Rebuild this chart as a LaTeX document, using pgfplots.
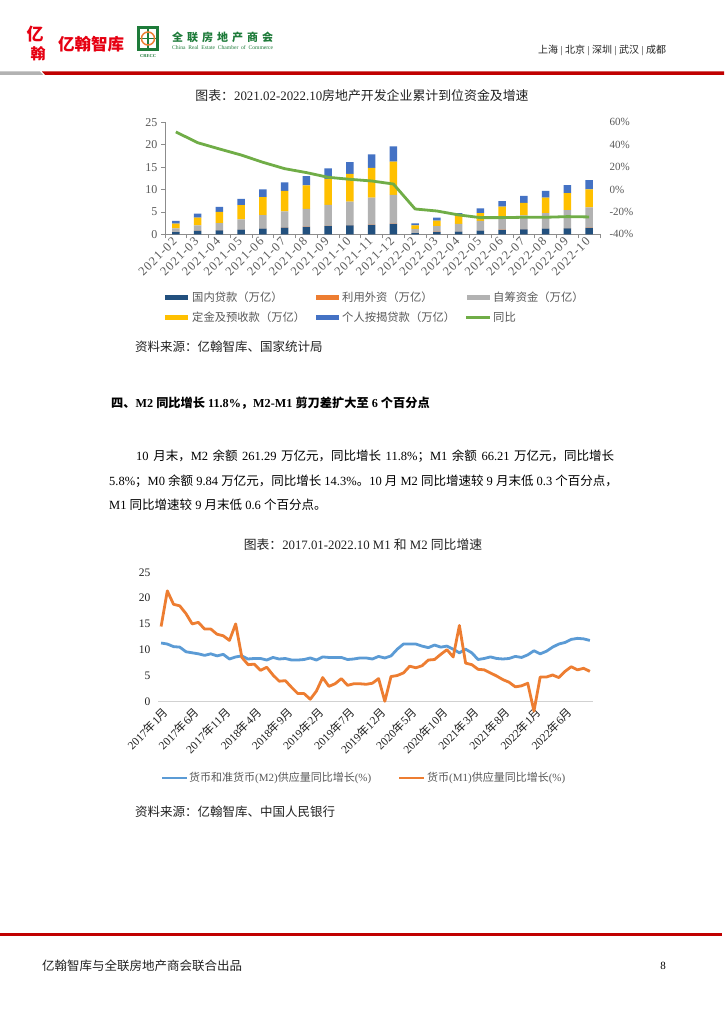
\documentclass[border=0pt]{standalone}
\usepackage{fontspec}
\usepackage{pgfplots}
\usepackage{pgfplotstable}
\pgfplotsset{compat=1.18}
\setmainfont{Liberation Serif}
\newfontfamily\cjk{Noto Sans CJK SC}
\newcommand\C[1]{{\cjk #1}}
\newcommand\fs[1]{\fontsize{#1}{#1}\selectfont}
\definecolor{cNavy}{HTML}{22507E}
\definecolor{cOrange}{HTML}{ED7D31}
\definecolor{cGray}{HTML}{B2B2B2}
\definecolor{cYellow}{HTML}{FFC000}
\definecolor{cBlue}{HTML}{4472C4}
\definecolor{cGreen}{HTML}{70AD47}
\definecolor{cM2}{HTML}{5B9BD5}
\definecolor{cM1}{HTML}{ED7D31}
\definecolor{cTick}{HTML}{595959}
\definecolor{cRed}{HTML}{C00000}
\definecolor{cLogoRed}{HTML}{E60012}
\definecolor{cLogoGreen}{HTML}{1E7B3A}
\definecolor{cText}{HTML}{222222}

\pgfplotstableread{
idx navy foreign gray yellow blue yoy
0  0.50 0.01 0.79 1.10 0.60 51.4
1  0.75 0.02 1.23 1.70 0.90 41.8
2  0.90 0.02 1.58 2.50 1.10 36.2
3  1.05 0.02 2.28 3.15 1.40 30.8
4  1.25 0.03 3.02 4.00 1.70 24.3
5  1.50 0.03 3.57 4.60 1.90 18.6
6  1.65 0.04 3.96 5.25 2.10 15.1
7  1.85 0.04 4.66 5.80 2.35 10.9
8  2.00 0.05 5.25 6.20 2.60 9.1
9  2.10 0.05 6.05 6.60 3.05 7.6
10 2.30 0.06 6.44 7.40 3.40 4.9
11 0.25 0.01 0.94 0.80 0.45 -17.4
12 0.55 0.02 1.28 1.20 0.65 -19.2
13 0.60 0.02 1.68 1.80 0.60 -22.7
14 0.80 0.03 2.17 1.75 1.05 -25.1
15 1.00 0.03 2.77 2.40 1.20 -25.1
16 1.10 0.04 3.11 2.75 1.55 -24.8
17 1.25 0.04 3.46 3.45 1.50 -24.8
18 1.35 0.05 4.00 3.80 1.80 -24.2
19 1.45 0.05 4.50 4.00 2.10 -24.5
}\fundtable

\pgfplotstableread{
idx m2 m1
0 11.3 14.5
1 11.1 21.4
2 10.6 18.8
3 10.5 18.5
4 9.6 17.0
5 9.4 15.0
6 9.2 15.3
7 8.9 14.0
8 9.2 14.0
9 8.8 13.0
10 9.1 12.7
11 8.2 11.8
12 8.6 15.0
13 8.8 8.5
14 8.2 7.1
15 8.3 7.2
16 8.3 6.0
17 8.0 6.6
18 8.5 5.1
19 8.2 3.9
20 8.3 4.0
21 8.0 2.7
22 8.0 1.5
23 8.1 1.5
24 8.4 0.4
25 8.0 2.0
26 8.6 4.6
27 8.5 2.9
28 8.5 3.4
29 8.5 4.4
30 8.1 3.1
31 8.2 3.4
32 8.4 3.4
33 8.4 3.3
34 8.2 3.5
35 8.7 4.4
36 8.4 0.0
37 8.8 4.8
38 10.1 5.0
39 11.1 5.5
40 11.1 6.8
41 11.1 6.5
42 10.7 6.9
43 10.4 8.0
44 10.9 8.1
45 10.5 9.1
46 10.7 10.0
47 10.1 8.6
48 9.4 14.7
49 10.1 7.4
50 9.4 7.1
51 8.1 6.2
52 8.3 6.1
53 8.6 5.5
54 8.3 4.9
55 8.2 4.2
56 8.3 3.7
57 8.7 2.8
58 8.5 3.0
59 9.0 3.5
60 9.8 -1.9
61 9.2 4.7
62 9.7 4.7
63 10.5 5.1
64 11.1 4.6
65 11.4 5.8
66 12.0 6.7
67 12.2 6.1
68 12.1 6.4
69 11.8 5.8
}\mtable

\begin{document}
\begin{tikzpicture}
\path[use as bounding box] (0pt,0pt) rectangle (724pt,-1024pt);
\fill[white] (0pt,0pt) rectangle (724pt,-1024pt);
\begin{scope}[x=1pt,y=-1pt]
% ---------- header ----------
\node[text=cLogoRed, inner sep=0, font=\cjk\fs{17}\bfseries] at (35,34) {亿};
\node[text=cLogoRed, inner sep=0, font=\cjk\fs{15}\bfseries] at (38,54) {翰};
\node[text=cLogoRed, inner sep=0, anchor=west, font=\cjk\fs{16.5}\bfseries] at (58,44) {亿翰智库};
\draw[cLogoGreen, line width=2.2pt] (138.5,27.5) rectangle (157.5,49.5);
\draw[cLogoGreen, line width=1.5pt] (148,27.5) -- (148,49.5) (138.5,38.5) -- (157.5,38.5);
\draw[cOrange, line width=1.5pt] (148,38.5) circle (6.5);
\node[text=cLogoGreen, inner sep=0, font=\fs{4.5}\bfseries] at (148,56) {CRECC};
\node[text=cLogoGreen, inner sep=0, anchor=west, font=\cjk\fs{11}\bfseries] at (172,37) {\hbox to 101pt{全\hfill 联\hfill 房\hfill 地\hfill 产\hfill 商\hfill 会}};
\node[text=cLogoGreen, inner sep=0, anchor=west, font=\fs{5.6}] at (172,48) {\hbox to 101pt{China Real Estate Chamber of Commerce}};
\node[text=cText, inner sep=0, anchor=west, font=\fs{10}] at (538,50) {\C{上海} | \C{北京} | \C{深圳} | \C{武汉} | \C{成都}};
\fill[gray!60] (0,71.5) -- (40,71.5) -- (43,74.8) -- (0,74.8) -- cycle;
\fill[cRed] (42,71.5) -- (724,71.5) -- (724,74.8) -- (45,74.8) -- cycle;
% ---------- chart 1 texts ----------
\node[text=cText, inner sep=0, font=\fs{12.9}] at (362,96) {\C{图表：}2021.02-2022.10\C{房地产开发企业累计到位资金及增速}};
\fill[cNavy] (165,295.2) rectangle (188,300.2);
\node[text=cTick, inner sep=0, anchor=west, font=\cjk\fs{11.3}] at (192,297.7) {国内贷款（万亿）};
\fill[cOrange] (316,295.2) rectangle (339,300.2);
\node[text=cTick, inner sep=0, anchor=west, font=\cjk\fs{11.3}] at (342,297.7) {利用外资（万亿）};
\fill[cGray] (467,295.2) rectangle (490,300.2);
\node[text=cTick, inner sep=0, anchor=west, font=\cjk\fs{11.3}] at (493,297.7) {自筹资金（万亿）};
\fill[cYellow] (165,315.2) rectangle (188,320.2);
\node[text=cTick, inner sep=0, anchor=west, font=\cjk\fs{11.3}] at (192,317.7) {定金及预收款（万亿）};
\fill[cBlue] (316,315.2) rectangle (339,320.2);
\node[text=cTick, inner sep=0, anchor=west, font=\cjk\fs{11.3}] at (342,317.7) {个人按揭贷款（万亿）};
\draw[cGreen, line width=2.5pt] (466,317.7) -- (490,317.7);
\node[text=cTick, inner sep=0, anchor=west, font=\cjk\fs{11.3}] at (493,317.7) {同比};
\node[text=cText, inner sep=0, anchor=west, font=\cjk\fs{12.5}] at (135,347) {资料来源：亿翰智库、国家统计局};
% ---------- body text ----------
\node[text=black, inner sep=0, anchor=west, font=\fs{12.2}\bfseries] at (111,403) {\C{四、}M2 \C{同比增长} 11.8\%\C{，}M2-M1 \C{剪刀差扩大至} 6 \C{个百分点}};
\node[text=black, inner sep=0, anchor=west, font=\fs{12.5}] at (136,456.5) {\hbox to 478pt{10 \C{月末，}M2 \C{余额} 261.29 \C{万亿元，同比增长} 11.8\%\C{；}M1 \C{余额} 66.21 \C{万亿元，同比增长}}};
\node[text=black, inner sep=0, anchor=west, font=\fs{12.5}] at (109,481) {5.8\%\C{；}M0 \C{余额} 9.84 \C{万亿元，同比增长} 14.3\%\C{。}10 \C{月} M2 \C{同比增速较} 9 \C{月末低} 0.3 \C{个百分点，}};
\node[text=black, inner sep=0, anchor=west, font=\fs{12.5}] at (109,505) {M1 \C{同比增速较} 9 \C{月末低} 0.6 \C{个百分点。}};
% ---------- chart 2 texts ----------
\node[text=cText, inner sep=0, font=\fs{12.8}] at (363,545) {\C{图表：}2017.01-2022.10 M1 \C{和} M2 \C{同比增速}};
\draw[cM2, line width=2.8pt] (162,778) -- (187,778);
\node[text=cTick, inner sep=0, anchor=west, font=\fs{11}] at (189,778) {\C{货币和准货币}(M2)\C{供应量同比增长}(\%)};
\draw[cM1, line width=2.8pt] (399,778) -- (424,778);
\node[text=cTick, inner sep=0, anchor=west, font=\fs{11}] at (427,778) {\C{货币}(M1)\C{供应量同比增长}(\%)};
\node[text=cText, inner sep=0, anchor=west, font=\cjk\fs{12.5}] at (135,812) {资料来源：亿翰智库、中国人民银行};
% ---------- footer ----------
\fill[cRed] (0,932.5) rectangle (722,935.5);
\node[text=cText, inner sep=0, anchor=west, font=\cjk\fs{12.5}] at (42,966) {亿翰智库与全联房地产商会联合出品};
\node[text=black, inner sep=0, font=\fs{11}] at (663,966) {8};
\end{scope}

% ---------- chart 1: bars ----------
\begin{axis}[
  at={(165pt,-234.3pt)}, anchor=south west,
  scale only axis, width=435pt, height=112pt,
  xmin=-0.5, xmax=19.5, ymin=0, ymax=25,
  ybar stacked, bar width=7.3pt,
  axis x line*=bottom, axis y line*=left,
  axis line style={draw=black!45, line width=0.6pt},
  xtick={0,...,19},
  xticklabels={2021-02,2021-03,2021-04,2021-05,2021-06,2021-07,2021-08,2021-09,2021-10,2021-11,2021-12,2022-02,2022-03,2022-04,2022-05,2022-06,2022-07,2022-08,2022-09,2022-10},
  minor xtick={-0.5,0.5,...,19.5},
  ytick={0,5,...,25},
  tick align=outside,
  major tick length=4pt, minor tick length=4pt,
  major x tick style={draw=none},
  tick style={draw=black!45, line width=0.6pt},
  /pgf/number format/assume math mode=true,
  tick label style={text=cTick, font=\fs{12}},
  xticklabel style={rotate=45, anchor=east, inner sep=1.5pt, font=\fs{12.5}\addfontfeature{LetterSpace=9}},
]
\addplot[fill=cNavy, draw=none] table[x=idx, y=navy] {\fundtable};
\addplot[fill=cOrange, draw=none] table[x=idx, y=foreign] {\fundtable};
\addplot[fill=cGray, draw=none] table[x=idx, y=gray] {\fundtable};
\addplot[fill=cYellow, draw=none] table[x=idx, y=yellow] {\fundtable};
\addplot[fill=cBlue, draw=none] table[x=idx, y=blue] {\fundtable};
\end{axis}
% ---------- chart 1: yoy line ----------
\begin{axis}[
  at={(165pt,-234.3pt)}, anchor=south west,
  scale only axis, width=435pt, height=112pt,
  xmin=-0.5, xmax=19.5, ymin=-40, ymax=60,
  axis y line*=right, hide x axis,
  y axis line style={draw=none},
  ytick={-40,-20,...,60},
  major tick length=0pt,
  /pgf/number format/assume math mode=true,
  yticklabel={\pgfmathprintnumber{\tick}\%},
  tick label style={text=cTick, font=\fs{11}},
  yticklabel style={xshift=6pt},
]
\addplot[cGreen, line width=2.8pt, line join=round, mark=none] table[x=idx, y=yoy] {\fundtable};
\end{axis}

% ---------- chart 2 ----------
\begin{axis}[
  at={(158pt,-701.3pt)}, anchor=south west,
  scale only axis, width=435pt, height=129pt,
  xmin=-0.5, xmax=69.5, ymin=0, ymax=25,
  clip=false,
  axis x line*=bottom, axis y line*=left,
  x axis line style={draw=black!18, line width=0.8pt},
  y axis line style={draw=none},
  xtick={0,5,...,65},
  xticklabels={{2017\C{年}1\C{月}},{2017\C{年}6\C{月}},{2017\C{年}11\C{月}},{2018\C{年}4\C{月}},{2018\C{年}9\C{月}},{2019\C{年}2\C{月}},{2019\C{年}7\C{月}},{2019\C{年}12\C{月}},{2020\C{年}5\C{月}},{2020\C{年}10\C{月}},{2021\C{年}3\C{月}},{2021\C{年}8\C{月}},{2022\C{年}1\C{月}},{2022\C{年}6\C{月}}},
  ytick={0,5,...,25},
  major tick length=0pt,
  /pgf/number format/assume math mode=true,
  tick label style={text=cText, font=\fs{11.5}},
  xticklabel style={rotate=45, anchor=east, inner sep=1pt, yshift=-10pt, xshift=-2pt},
  yticklabel style={xshift=-4pt},
]
\addplot[cM2, line width=2.8pt, line join=round, mark=none] table[x=idx, y=m2] {\mtable};
\addplot[cM1, line width=2.8pt, line join=round, mark=none] table[x=idx, y=m1] {\mtable};
\end{axis}
\end{tikzpicture}
\end{document}
